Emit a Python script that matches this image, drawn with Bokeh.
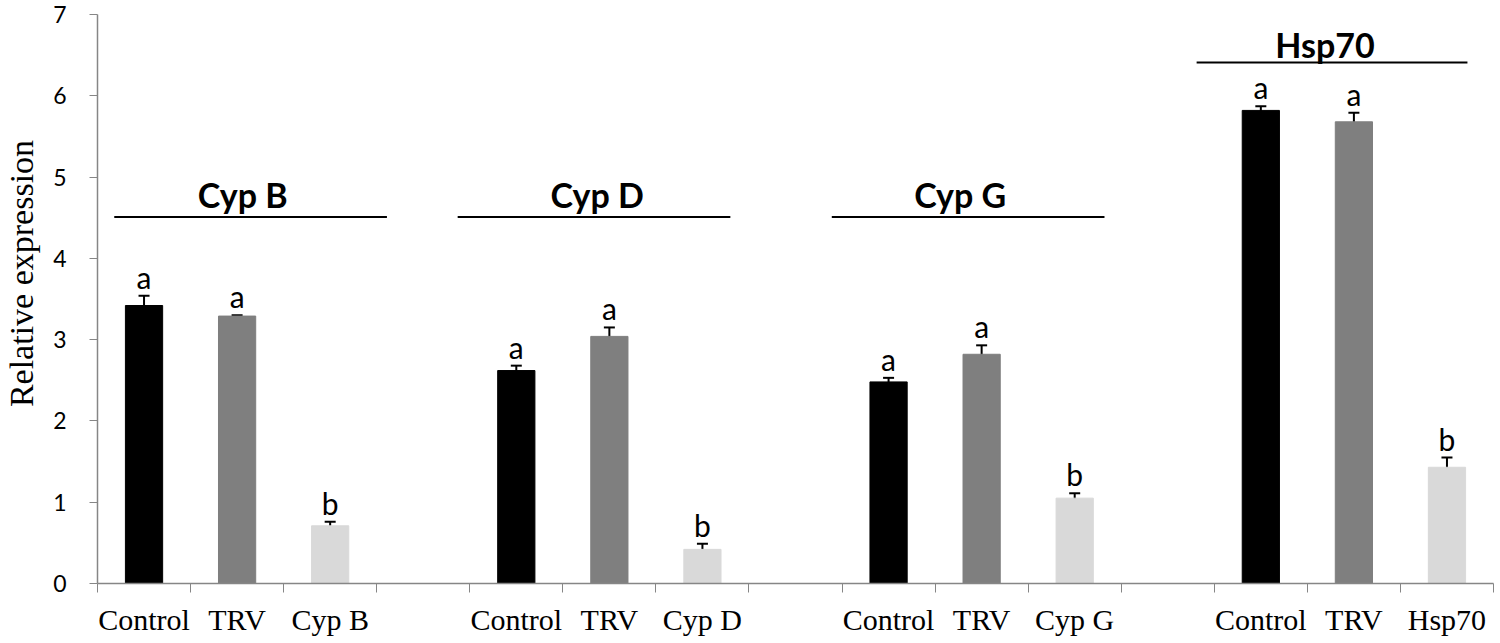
from bokeh.plotting import figure
from bokeh.models import Range1d, FixedTicker, Whisker, TeeHead, ColumnDataSource
from bokeh.core.properties import value
from bokeh.embed import file_html
from bokeh.resources import INLINE

# ---- data ----
genes = ["Cyp B", "Cyp D", "Cyp G", "Hsp70"]
treatments = ["Control", "TRV"]
control_vals = [3.42, 2.62, 2.48, 5.82]
trv_vals = [3.29, 3.04, 2.82, 5.68]
silenced_vals = [0.71, 0.42, 1.05, 1.43]
control_err = [0.12, 0.06, 0.05, 0.05]
trv_err = [0.01, 0.11, 0.11, 0.11]
silenced_err = [0.05, 0.07, 0.06, 0.12]
control_letters = ["a", "a", "a", "a"]
trv_letters = ["a", "a", "a", "a"]
silenced_letters = ["b", "b", "b", "b"]
y_ticks = [0, 1, 2, 3, 4, 5, 6, 7]
y_label = "Relative expression"
# group title placement (slot units / value units)
title_x = [1.56, 5.37, 9.27, 13.19]
title_y = [4.79, 4.79, 4.79, 6.63]
line_x0 = [0.18, 3.87, 7.89, 11.81]
line_x1 = [3.11, 6.80, 10.82, 14.72]
line_y = [4.51, 4.51, 4.51, 6.41]

colors = ["#000000", "#7f7f7f", "#d9d9d9"]

xs, tops, errs, cols, letters, labels = [], [], [], [], [], {}
for g, gene in enumerate(genes):
    vals = [control_vals[g], trv_vals[g], silenced_vals[g]]
    es = [control_err[g], trv_err[g], silenced_err[g]]
    ls = [control_letters[g], trv_letters[g], silenced_letters[g]]
    names = treatments + [gene]
    for t in range(3):
        x = 4 * g + t + 0.5
        xs.append(x)
        tops.append(vals[t])
        errs.append(es[t])
        cols.append(colors[t])
        letters.append(ls[t])
        labels[x] = names[t]
    if g < 3:
        labels[4 * g + 3 + 0.5] = ""

src = ColumnDataSource(dict(
    x=xs, top=tops, color=cols, letter=letters,
    upper=[v + e for v, e in zip(tops, errs)],
    lower=[v - e for v, e in zip(tops, errs)],
))

p = figure(width=1496, height=642, x_range=Range1d(0, 15), y_range=Range1d(0, 7),
           output_backend="svg", toolbar_location=None,
           min_border_left=96, min_border_right=3, min_border_top=14, min_border_bottom=59)
p.outline_line_color = None
p.xgrid.visible = False
p.ygrid.visible = False
p.background_fill_color = "white"

p.vbar(x="x", top="top", width=0.4, bottom=0, color="color", source=src)

w = Whisker(source=src, base="x", upper="upper", lower="lower",
            line_color="black", line_width=2,
            upper_head=TeeHead(size=11, line_color="black", line_width=2),
            lower_head=TeeHead(size=11, line_color="black", line_width=2))
p.add_layout(w)

p.text(x="x", y="upper", text="letter", source=src, text_align="center",
       text_baseline="alphabetic", y_offset=-19, text_font=value("Lato"),
       text_font_size="30px", text_color="black")

# group titles and lines
p.segment(x0=line_x0, y0=line_y, x1=line_x1, y1=line_y, line_color="black", line_width=2)
p.text(x=title_x, y=title_y, text=genes, text_align="center", text_baseline="alphabetic",
       text_font=value("Lato"), text_font_style="bold", text_font_size="34px",
       text_color="black")

# axes
ax = p.xaxis[0]
ax.ticker = FixedTicker(ticks=sorted(labels.keys()), minor_ticks=list(range(16)))
ax.major_label_overrides = labels
ax.major_tick_line_color = None
ax.major_tick_out = 9
ax.major_tick_in = 0
ax.minor_tick_out = 9
ax.minor_tick_in = 0
ax.minor_tick_line_color = "#868686"
ax.axis_line_color = "#868686"
ax.axis_line_width = 1.5
ax.major_label_text_font = "Liberation Serif"
ax.major_label_text_font_size = "30px"
ax.major_label_text_color = "black"
ax.major_label_standoff = 10

ay = p.yaxis[0]
ay.ticker = FixedTicker(ticks=y_ticks)
ay.minor_tick_line_color = None
ay.major_tick_out = 8
ay.major_tick_in = 0
ay.major_tick_line_color = "#868686"
ay.axis_line_color = "#868686"
ay.axis_line_width = 1.5
ay.major_label_text_font = "Lato"
ay.major_label_text_font_size = "23px"
ay.major_label_text_color = "black"
ay.major_label_standoff = 23
ay.axis_label = "\u00a0" * 6 + y_label
ay.axis_label_text_font = "Liberation Serif"
ay.axis_label_text_font_size = "34px"
ay.axis_label_text_font_style = "normal"
ay.axis_label_text_color = "black"
ay.axis_label_standoff = 10

open("out.html", "w").write(file_html(p, INLINE))
